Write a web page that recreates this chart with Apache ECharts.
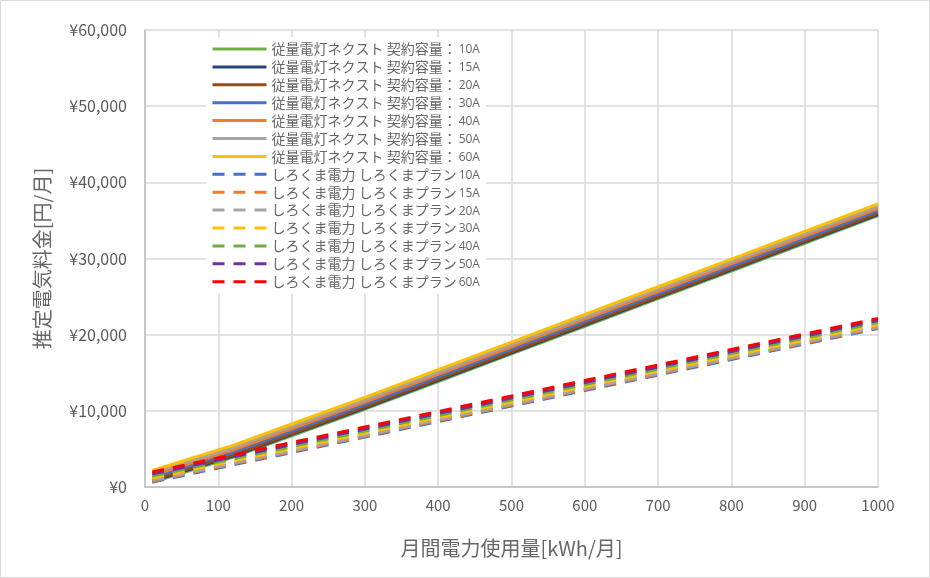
<!DOCTYPE html>
<html>
<head>
<meta charset="utf-8">
<script src="https://cdn.jsdelivr.net/npm/echarts@6/dist/echarts.min.js"></script>
<style>
html,body{margin:0;padding:0;background:#fff;}
#chart{width:930px;height:578px;}
</style>
</head>
<body>
<div id="chart"></div>
<script>
// x values (kWh/month)
const kwh = [10, 100, 120, 200, 300, 400, 500, 600, 700, 800, 900, 1000];
const ampLabels = ['10A', '15A', '20A', '30A', '40A', '50A', '60A'];
const yTicks = [0, 10000, 20000, 30000, 40000, 50000, 60000];
const xTicks = [0, 100, 200, 300, 400, 500, 600, 700, 800, 900, 1000];

// 従量電灯ネクスト (solid)
const next10A = [612, 3312, 3912, 6712, 10212, 13842, 17472, 21102, 24732, 28362, 31992, 35622];
const next15A = [768, 3468, 4068, 6868, 10368, 13998, 17628, 21258, 24888, 28518, 32148, 35778];
const next20A = [924, 3624, 4224, 7024, 10524, 14154, 17784, 21414, 25044, 28674, 32304, 35934];
const next30A = [1235, 3935, 4535, 7335, 10835, 14465, 18095, 21725, 25355, 28985, 32615, 36245];
const next40A = [1547, 4247, 4847, 7647, 11147, 14777, 18407, 22037, 25667, 29297, 32927, 36557];
const next50A = [1859, 4559, 5159, 7959, 11459, 15089, 18719, 22349, 25979, 29609, 33239, 36869];
const next60A = [2171, 4871, 5471, 8271, 11771, 15401, 19031, 22661, 26291, 29921, 33551, 37181];

// しろくま電力 しろくまプラン (dashed)
const shiro10A = [654, 2486, 2893, 4522, 6558, 8594, 10630, 12666, 14702, 16738, 18774, 20810];
const shiro15A = [786, 2618, 3025, 4654, 6690, 8726, 10762, 12798, 14834, 16870, 18906, 20942];
const shiro20A = [917, 2749, 3156, 4785, 6821, 8857, 10893, 12929, 14965, 17001, 19037, 21073];
const shiro30A = [1180, 3012, 3419, 5048, 7084, 9120, 11156, 13192, 15228, 17264, 19300, 21336];
const shiro40A = [1443, 3275, 3682, 5311, 7347, 9383, 11419, 13455, 15491, 17527, 19563, 21599];
const shiro50A = [1706, 3538, 3945, 5574, 7610, 9646, 11682, 13718, 15754, 17790, 19826, 21862];
const shiro60A = [1969, 3801, 4208, 5837, 7873, 9909, 11945, 13981, 16017, 18053, 20089, 22125];

const nextSets = [next10A, next15A, next20A, next30A, next40A, next50A, next60A];
const shiroSets = [shiro10A, shiro15A, shiro20A, shiro30A, shiro40A, shiro50A, shiro60A];
const nextColors = ['#70AD47', '#264478', '#9E480E', '#4472C4', '#ED7D31', '#A5A5A5', '#FFC000'];
const shiroColors = ['#4472C4', '#ED7D31', '#A5A5A5', '#FFC000', '#70AD47', '#7030A0', '#FF0000'];

const JP = '"Noto Sans CJK JP", "Noto Sans", sans-serif';
const series = [];
nextSets.forEach((vals, i) => {
  series.push({
    name: '従量電灯ネクスト 契約容量：' + ampLabels[i],
    type: 'line',
    symbol: 'none',
    data: kwh.map((x, j) => [x, vals[j]]),
    lineStyle: {color: nextColors[i], width: 3, cap: 'butt'},
    itemStyle: {color: nextColors[i]},
    silent: true
  });
});
shiroSets.forEach((vals, i) => {
  series.push({
    name: 'しろくま電力 しろくまプラン ' + ampLabels[i],
    type: 'line',
    symbol: 'none',
    data: kwh.map((x, j) => [x, vals[j]]),
    lineStyle: {color: shiroColors[i], width: 3, type: [12, 9], cap: 'butt'},
    itemStyle: {color: shiroColors[i]},
    silent: true
  });
});

const chart = echarts.init(document.getElementById('chart'), null, {renderer: 'canvas'});
chart.setOption({
  animation: false,
  backgroundColor: '#fff',
  graphic: [{
    type: 'rect', z: -10, silent: true,
    shape: {x: 0.5, y: 0.5, width: 929, height: 577},
    style: {fill: 'none', stroke: '#d9d9d9', lineWidth: 1}
  }],
  grid: {left: 145, right: 52, top: 30, bottom: 91, containLabel: false},
  legend: {
    orient: 'vertical',
    left: 206, top: 37,
    padding: [5, 6, 5, 5],
    backgroundColor: '#fff',
    itemWidth: 54, itemHeight: 14, itemGap: 3.9,
    itemStyle: {opacity: 0},
    lineStyle: {width: 3},
    textStyle: {color: '#666666', fontFamily: JP, fontSize: 14, lineHeight: 14,
      rich: {n: {fontFamily: '"Open Sans", sans-serif', fontSize: 12, color: '#666666', lineHeight: 14, verticalAlign: 'bottom', padding: [0, 0, 0, 2]}}},
    formatter: function (name) {
      const m = name.match(/^(.*?)\s?(\d+A)$/);
      return m ? m[1] + '{n|' + m[2] + '}' : name;
    },
    data: series.map(s => s.name)
  },
  xAxis: {
    type: 'value', min: 0, max: 1000, interval: 100,
    name: '月間電力使用量[kWh/月]',
    nameLocation: 'middle', nameGap: 51,
    nameTextStyle: {color: '#666666', fontFamily: JP, fontSize: 20},
    axisLine: {show: true, onZero: false, lineStyle: {color: '#bfbfbf', width: 1.5}},
    axisTick: {show: false},
    axisLabel: {color: '#595959', fontFamily: JP, fontSize: 15, margin: 11,
      formatter: v => String(v)},
    splitLine: {show: true, lineStyle: {color: '#d9d9d9', width: 1.5}}
  },
  yAxis: {
    type: 'value', min: 0, max: 60000, interval: 10000,
    name: '推定電気料金[円/月]',
    nameLocation: 'middle', nameGap: 93, nameRotate: 90,
    nameTextStyle: {color: '#666666', fontFamily: JP, fontSize: 20},
    axisLine: {show: true, lineStyle: {color: '#bfbfbf', width: 1.5}},
    axisTick: {show: false},
    axisLabel: {color: '#595959', fontFamily: JP, fontSize: 16, margin: 18,
      formatter: v => '¥' + v.toLocaleString('en-US')},
    splitLine: {show: true, lineStyle: {color: '#d9d9d9', width: 1.5}}
  },
  series: series
});
</script>
</body>
</html>
